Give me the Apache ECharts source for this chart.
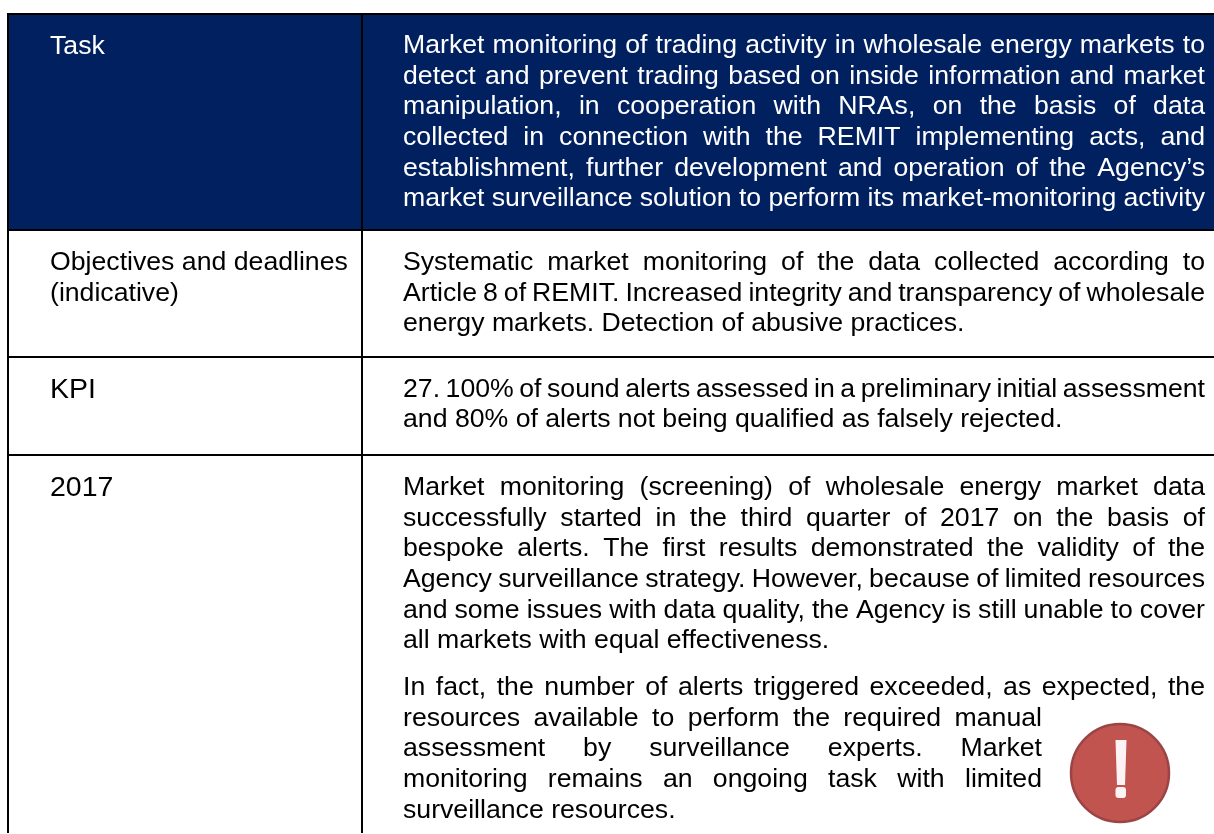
<!DOCTYPE html>
<html lang="en">
<head>
    <meta charset="UTF-8">
    <title>Market monitoring task</title>
    <script src="https://cdn.jsdelivr.net/npm/echarts@6/dist/echarts.min.js"></script>
    <style>
        html, body { margin: 0; padding: 0; background: #fff; }
        #main { width: 1214px; height: 834px; }
    </style>
</head>
<body>
<div id="main"></div>
<script>
    // table texts, one string per printed line
    var taskLabel = ["Task"];
    var taskText = [
        "Market monitoring of trading activity in wholesale energy markets to",
        "detect and prevent trading based on inside information and market",
        "manipulation, in cooperation with NRAs, on the basis of data",
        "collected in connection with the REMIT implementing acts, and",
        "establishment, further development and operation of the Agency’s",
        "market surveillance solution to perform its market-monitoring activity"
    ];
    var objectivesLabel = ["Objectives and deadlines", "(indicative)"];
    var objectivesText = [
        "Systematic market monitoring of the data collected according to",
        "Article 8 of REMIT. Increased integrity and transparency of wholesale",
        "energy markets. Detection of abusive practices."
    ];
    var kpiLabel = ["KPI"];
    var kpiText = [
        "27. 100% of sound alerts assessed in a preliminary initial assessment",
        "and 80% of alerts not being qualified as falsely rejected."
    ];
    var yearLabel = ["2017"];
    var yearText = [
        "Market monitoring (screening) of wholesale energy market data",
        "successfully started in the third quarter of 2017 on the basis of",
        "bespoke alerts. The first results demonstrated the validity of the",
        "Agency surveillance strategy. However, because of limited resources",
        "and some issues with data quality, the Agency is still unable to cover",
        "all markets with equal effectiveness."
    ];
    var yearFirstLine = ["In fact, the number of alerts triggered exceeded, as expected, the"];
    var yearWrapped = [
        "resources available to perform the required manual",
        "assessment by surveillance experts. Market",
        "monitoring remains an ongoing task with limited",
        "surveillance resources."
    ];

    var fontFamily = '"Liberation Sans", Arial, sans-serif';
    var bodySize = 26.67;
    var bigSize = 28.5;
    var pitch = 30.67;
    var leftX = 50, rightX = 403, rightEdge = 1205, wrapEdge = 1042;
    var navy = "#002060", lineColor = "#000";

    var measure = document.createElement("canvas").getContext("2d");
    var elements = [];

    function rect(x, y, w, h, fill) {
        elements.push({ type: "rect", silent: true, shape: { x: x, y: y, width: w, height: h }, style: { fill: fill } });
    }
    function word(str, x, baseline, size, color) {
        elements.push({
            type: "text", silent: true, x: x, y: baseline - 0.3465 * size,
            style: { text: str, x: 0, y: 0, fill: color, font: size + "px " + fontFamily, align: "left", verticalAlign: "middle" }
        });
    }
    // writes lines from a baseline; every line but the last is stretched out to edge
    function block(lines, x, baseline, edge, size, color, stretchLast) {
        measure.font = size + "px " + fontFamily;
        for (var i = 0; i < lines.length; i++) {
            var y = baseline + i * pitch;
            if (!edge || (i == lines.length - 1 && !stretchLast)) {
                word(lines[i], x, y, size, color);
                continue;
            }
            var words = lines[i].split(" ");
            var used = 0;
            for (var j = 0; j < words.length; j++) used += measure.measureText(words[j]).width;
            var gap = (edge - x - used) / (words.length - 1);
            var cx = x;
            for (var j = 0; j < words.length; j++) {
                word(words[j], cx, y, size, color);
                cx += measure.measureText(words[j]).width + gap;
            }
        }
    }

    // header band and rules
    rect(8, 14, 1206, 216, navy);
    rect(7, 13, 1207, 2, lineColor);
    rect(7, 229, 1207, 2, lineColor);
    rect(7, 356, 1207, 2, lineColor);
    rect(7, 454, 1207, 2, lineColor);
    rect(7, 13, 2, 820, lineColor);
    rect(361, 13, 2, 820, lineColor);

    block(taskLabel, leftX, 56, 0, bodySize, "#fff");
    block(taskText, rightX, 55, rightEdge, bodySize, "#fff", true);
    block(objectivesLabel, leftX, 272, 0, bodySize, "#000");
    block(objectivesText, rightX, 272, rightEdge, bodySize, "#000");
    block(kpiLabel, leftX, 400, 0, bigSize, "#000");
    block(kpiText, rightX, 398.5, rightEdge, bodySize, "#000");
    block(yearLabel, leftX, 498, 0, bigSize, "#000");
    block(yearText, rightX, 497, rightEdge, bodySize, "#000");
    block(yearFirstLine, rightX, 697, rightEdge, bodySize, "#000", true);
    block(yearWrapped, rightX, 727.5, wrapEdge, bodySize, "#000");

    // warning badge
    elements.push({ type: "circle", silent: true, shape: { cx: 1120, cy: 773, r: 49 }, style: { fill: "#c25450", stroke: "#9a4446", lineWidth: 2.5 } });
    elements.push({ type: "polygon", silent: true, shape: { points: [[1115.5, 740], [1126.5, 740], [1125, 785], [1117, 785]] }, style: { fill: "#fdf3f4" } });
    elements.push({ type: "rect", silent: true, shape: { x: 1115.5, y: 787, width: 10.5, height: 11, r: 3 }, style: { fill: "#fdf3f4" } });

    var myChart = echarts.init(document.getElementById("main"), null, { renderer: "canvas" });
    myChart.setOption({
        animation: false,
        backgroundColor: "#fff",
        graphic: { elements: elements }
    });
</script>
</body>
</html>
